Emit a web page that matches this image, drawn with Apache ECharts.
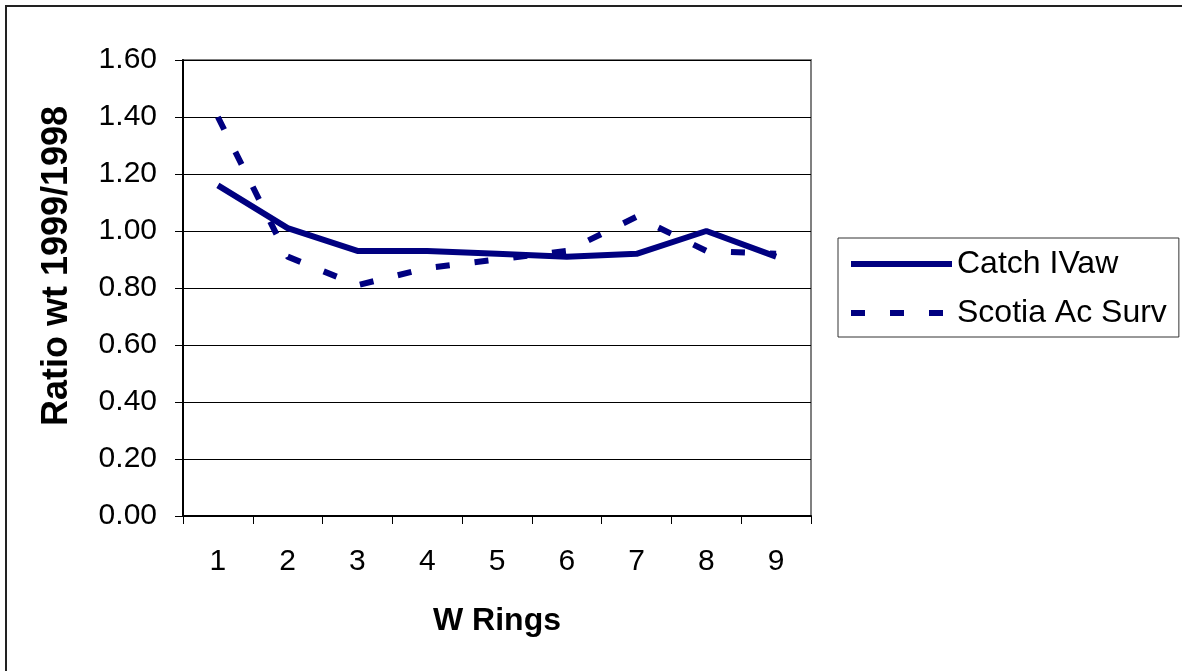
<!DOCTYPE html>
<html>
<head>
<meta charset="utf-8">
<script src="https://cdn.jsdelivr.net/npm/echarts@6/dist/echarts.min.js"></script>
<style>
html,body{margin:0;padding:0;background:#fff;}
#chart{width:1182px;height:671px;}
</style>
</head>
<body>
<div id="chart"></div>
<script>
var categories = ['1','2','3','4','5','6','7','8','9'];
var catchIVaw = [1.16, 1.01, 0.93, 0.93, 0.92, 0.91, 0.92, 1.00, 0.91];
var scotiaAcSurv = [1.40, 0.91, 0.81, 0.87, 0.90, 0.93, 1.05, 0.93, 0.92];
var seriesNames = ['Catch IVaw', 'Scotia Ac Surv'];
var xTitle = 'W Rings';
var yTitle = 'Ratio wt 1999/1998';

var FONT = '"Liberation Sans", Arial, sans-serif';
var NAVY = '#000080';

var chart = echarts.init(document.getElementById('chart'), null, {renderer: 'canvas'});
chart.setOption({
  animation: false,
  backgroundColor: '#ffffff',
  textStyle: {fontFamily: FONT, color: '#000'},
  graphic: [{
    type: 'rect',
    shape: {x: 6, y: 6, width: 1400, height: 900},
    style: {fill: 'none', stroke: '#222', lineWidth: 2},
    silent: true, z: 100
  }],
  grid: {
    left: 183, top: 60, width: 628, height: 456,
    show: true, borderColor: '#808080', borderWidth: 2, backgroundColor: 'transparent'
  },
  legend: {
    orient: 'vertical',
    left: 838, top: 238,
    padding: [10, 12, 8, 10],
    itemGap: 17,
    itemWidth: 101, itemHeight: 6,
    borderColor: '#333', borderWidth: 1,
    itemStyle: {opacity: 0},
    lineStyle: {width: 6},
    textStyle: {fontFamily: FONT, fontSize: 32, color: '#000'},
    data: seriesNames
  },
  xAxis: {
    type: 'category',
    data: categories,
    boundaryGap: true,
    name: xTitle,
    nameLocation: 'middle',
    nameGap: 89,
    nameTextStyle: {fontFamily: FONT, fontSize: 32, fontWeight: 'bold', color: '#000'},
    axisLine: {lineStyle: {color: '#000', width: 2}},
    axisTick: {show: true, inside: false, length: 8, alignWithLabel: false, lineStyle: {color: '#000', width: 1}},
    axisLabel: {fontFamily: FONT, fontSize: 30, color: '#000', margin: 31},
    splitLine: {show: false}
  },
  yAxis: {
    type: 'value',
    min: 0, max: 1.6, interval: 0.2,
    name: yTitle,
    nameLocation: 'middle',
    nameGap: 108,
    nameRotate: 90,
    nameTextStyle: {fontFamily: FONT, fontSize: 36, fontWeight: 'bold', color: '#000', padding: [0, 0, 0, 44]},
    axisLine: {show: true, lineStyle: {color: '#000', width: 2}},
    axisTick: {show: true, inside: false, length: 8, lineStyle: {color: '#000', width: 1}},
    axisLabel: {fontFamily: FONT, fontSize: 30, color: '#000', margin: 26,
      formatter: function (v) { return v.toFixed(2); }},
    splitLine: {show: true, lineStyle: {color: '#000', width: 1}}
  },
  series: [{
    name: seriesNames[0],
    type: 'line',
    data: catchIVaw,
    symbol: 'none',
    lineStyle: {color: NAVY, width: 6, type: 'solid'},
    itemStyle: {color: NAVY},
    z: 3
  }, {
    name: seriesNames[1],
    type: 'line',
    data: scotiaAcSurv,
    symbol: 'none',
    lineStyle: {color: NAVY, width: 6, type: [14, 25], cap: 'butt'},
    itemStyle: {color: NAVY},
    z: 2
  }]
});
</script>
</body>
</html>
